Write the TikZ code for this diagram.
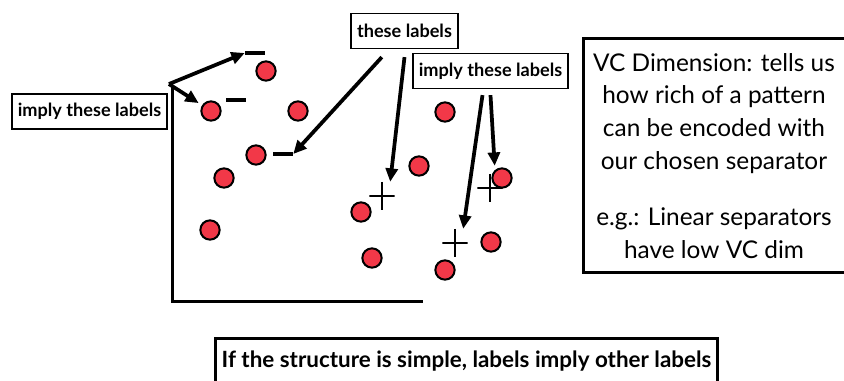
\documentclass[tikz,border=0pt]{standalone}
\usepackage{fontspec}
\setmainfont{Lato}
\usetikzlibrary{arrows.meta,positioning}
\definecolor{dotRed}{RGB}{242, 56, 72}

\begin{document}
\begin{tikzpicture}[
  x=0.75pt,
  y=-0.75pt,
  dot/.style={
    circle,
    draw,
    line width=1.5pt,
    fill=dotRed,
    minimum size=14.5pt,
    inner sep=0pt
  },
  minussign/.style={
    fill=black,
    minimum width=15pt,
    minimum height=2.4pt,
    inner sep=0pt
  },
  plussign/.style={
    minimum width=19pt,
    minimum height=21pt,
    inner sep=0pt,
    path picture={
      \draw[line width=2pt] (path picture bounding box.west) -- (path picture bounding box.east)
        (path picture bounding box.north) -- (path picture bounding box.south);
    }
  },
  tag/.style={
    draw,
    line width=1.2pt,
    minimum height=26pt,
    inner sep=0pt,
    font=\bfseries\fontsize{13.6}{15}\selectfont
  },
  panel/.style={
    draw,
    line width=2.25pt,
    align=center,
    inner sep=0pt
  },
  arrow/.style={-{Triangle[length=10pt,width=9pt]},line width=2.8pt}
]
  \clip (0,0) rectangle (844,381);

  % axes of the data space
  \draw[line width=2.25pt] (172,87) -- (172,302) -- (423,302);

  % data points
  \node[dot] (d1) at (266,71) {};
  \node[dot] (d2) at (211,111) {};
  \node[dot] (d3) at (298,111) {};
  \node[dot] (d4) at (256,155) {};
  \node[dot] (d5) at (224,178) {};
  \node[dot] (d6) at (210,230) {};
  \node[dot] (d7) at (361,212) {};
  \node[dot] (d8) at (372,258) {};
  \node[dot] (d9) at (419,166) {};
  \node[dot] (d10) at (445,112) {};
  \node[dot] (d11) at (502,178) {};
  \node[dot] (d12) at (491,242) {};
  \node[dot] (d13) at (445,270) {};

  % given labels
  \node[minussign] (m1) at (255,53) {};
  \node[minussign] (m2) at (236,100) {};
  \node[minussign] (m3) at (283,154) {};
  \node[plussign] (p1) at (382,196) {};
  \node[plussign] (p2) at (490,188) {};
  \node[plussign] (p3) at (455,243) {};

  % callouts
  \node[tag,minimum width=116pt] (implyL) at (89.5,111.5) {imply these labels};
  \node[tag,minimum width=80pt] (theseL) at (404.5,31) {these labels};
  \node[tag,minimum width=116pt] (implyR) at (490.5,71) {imply these labels};
  \coordinate (fork) at ([shift={(1pt,7pt)}]implyL.north east);

  \node[panel,minimum width=196.5pt,minimum height=175.5pt,font=\fontsize{18.3}{24.5}\selectfont] (vc) at (714,156)
    {VC Dimension: tells us\\how rich of a pattern\\can be encoded with\\our chosen separator\\[18pt]e.g.: Linear separators\\have low VC dim};
  \node[panel,minimum width=377pt,minimum height=33pt,font=\bfseries\fontsize{16.8}{20}\selectfont] (moral) at (466.5,361)
    {If the structure is simple, labels imply other labels};

  \draw[arrow] (fork) -- (m1.west);
  \draw[arrow,shorten >=3pt] (fork) -- (d2);
  \draw[arrow] ([xshift=-17pt,yshift=-6pt]theseL.south) -- (m3.east);
  \draw[arrow] ([yshift=-6pt]theseL.south) -- (p1.60);
  \draw[arrow] ([xshift=-6pt,yshift=-4.5pt]implyR.south) -- (p3.60);
  \draw[arrow,shorten >=6pt] ([yshift=-4.5pt]implyR.south) -- (p2.70);
\end{tikzpicture}
\end{document}
